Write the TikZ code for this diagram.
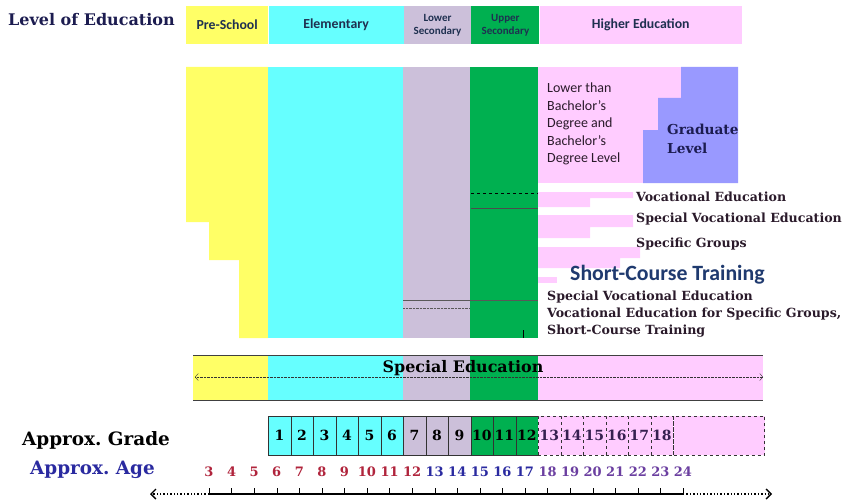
\documentclass[tikz,border=0pt]{standalone}
\usepackage{fontspec}
\setmainfont{DejaVu Serif}
\newfontfamily\calibri{Carlito}
\usetikzlibrary{positioning,arrows.meta}

\definecolor{preyellow}{HTML}{FFFF66}
\definecolor{elemcyan}{HTML}{66FFFF}
\definecolor{lowlav}{HTML}{CCC0DA}
\definecolor{upgreen}{HTML}{00B050}
\definecolor{highpink}{HTML}{FFCCFF}
\definecolor{gradblue}{HTML}{9999FF}
\definecolor{navy}{HTML}{1C1C50}
\definecolor{hdrnavy}{HTML}{1F3050}
\definecolor{shortnavy}{HTML}{1F3A6F}
\definecolor{agered}{HTML}{B0243C}
\definecolor{ageblue}{HTML}{2A2AA0}
\definecolor{agepurple}{HTML}{6B3FA0}
\definecolor{lbltext}{HTML}{2A1A2A}

\begin{document}
\frenchspacing
\begin{tikzpicture}[x=1pt,y=-1pt,>=stealth,
		hdr/.style={shape=rectangle,inner sep=0pt,minimum height=38pt,
			font=\calibri\bfseries\fontsize{13.8}{14}\selectfont,text=hdrnavy,align=center},
		ttl/.style={anchor=west,inner sep=0pt,font=\bfseries\fontsize{18.4}{19}\selectfont},
		voclbl/.style={anchor=west,inner sep=0pt,text=lbltext,
			font=\bfseries\fontsize{12.6}{14}\selectfont},
		gcell/.style={shape=rectangle,draw=black!80,anchor=north west,inner sep=0pt,
			minimum width=22.5pt,minimum height=39pt,font=\bfseries\fontsize{14}{15}\selectfont},
		agelbl/.style={inner sep=0pt,font=\bfseries\fontsize{13}{14}\selectfont},
		barb/.tip={Straight Barb[length=5pt,width=10pt]},
		smallbarb/.tip={Straight Barb[length=3pt,width=7pt]}]
		\useasboundingbox (0,0) rectangle (850,500);

		% create the header nodes.
		\node (pre) [hdr,fill=preyellow,minimum width=82pt,anchor=north west] at (186,6) {Pre-School};
		\node (elem) [hdr,fill=elemcyan,minimum width=135pt,right=0pt of pre] {Elementary};
		\node (lowsec) [hdr,fill=lowlav,minimum width=67pt,right=0pt of elem,
			font=\calibri\bfseries\fontsize{11}{13.5}\selectfont] {Lower\\Secondary};
		\node (upsec) [hdr,fill=upgreen,minimum width=68pt,right=0pt of lowsec,
			font=\calibri\bfseries\fontsize{11}{13.5}\selectfont] {Upper\\Secondary};
		\node (higher) [hdr,fill=highpink,minimum width=202pt,right=0pt of upsec] {Higher Education};
		\node (lvl) [ttl,text=navy,font=\bfseries\fontsize{16}{18}\selectfont] at (8,20) {Level of Education};

		% the levels
		\fill[preyellow] (186,67) -- (268,67) -- (268,338) -- (239,338) -- (239,260)
			-- (209,260) -- (209,222) -- (186,222) -- cycle;
		\fill[elemcyan] (268,67) rectangle (403,338);
		\fill[lowlav] (403,67) rectangle (470,338);
		\fill[upgreen] (470,67) rectangle (538,338);
		\fill[highpink] (538,67) rectangle (681,183);
		\fill[gradblue] (681,67) -- (738,67) -- (738,183) -- (643,183) -- (643,130)
			-- (658,130) -- (658,98) -- (681,98) -- cycle;
		\fill[highpink] (538,192) -- (633,192) -- (633,198) -- (590,198) -- (590,207) -- (538,207) -- cycle;
		\fill[highpink] (538,215) -- (633,215) -- (633,227) -- (590,227) -- (590,238) -- (538,238) -- cycle;
		\fill[highpink] (538,247) -- (640,247) -- (640,258) -- (620,258) -- (620,268) -- (538,268) -- cycle;
		\fill[highpink] (538,277) rectangle (557,283);
		\draw[dashed,thin] (471,193) -- (538,193);
		\draw[thin,black!70] (471,208) -- (538,208);
		\draw[thin,gray!70!black] (403,300) -- (538,300);
		\draw[densely dotted,gray!70!black] (403,308) -- (470,308);
		\draw[thin] (523,330) -- (523,338);

		% texts of the levels
		\node (lowbach) [anchor=north west,inner sep=0pt,align=left,text=lbltext,
			font=\calibri\fontsize{14}{17.5}\selectfont] at (547,83)
			{Lower than\\Bachelor’s\\Degree and\\Bachelor’s\\Degree Level};
		\node (grad) [anchor=north west,inner sep=0pt,align=left,text=navy,
			font=\bfseries\fontsize{13.7}{18.5}\selectfont] at (667,124) {Graduate\\Level};
		\node (voc) [voclbl] at (636,197) {Vocational Education};
		\node (spvoc) [voclbl] at (636,219) {Special Vocational Education};
		\node (spgrp) [voclbl] at (636,244) {Specific Groups};
		\node (short) [anchor=west,inner sep=0pt,text=shortnavy,
			font=\calibri\bfseries\fontsize{21.8}{22}\selectfont] at (570,275) {Short-Course Training};
		\node (spvoc2) [voclbl] at (547,297) {Special Vocational Education};
		\node (vocgrp) [voclbl] at (547,314) {Vocational Education for Specific Groups,};
		\node (short2) [voclbl] at (547,331) {Short-Course Training};

		% special education band
		\fill[preyellow] (193,355) rectangle (268,400);
		\fill[elemcyan] (268,355) rectangle (403,400);
		\fill[lowlav] (403,355) rectangle (470,400);
		\fill[upgreen] (470,355) rectangle (538,400);
		\fill[highpink] (538,355) rectangle (763,400);
		\draw[thick,gray!50!black] (193,355) -- (763,355);
		\draw[thick,gray!50!black] (193,400) -- (763,400);
		\coordinate (sel) at (195,377);
		\coordinate (ser) at (763,377);
		\draw[densely dotted,gray!40!black,smallbarb-smallbarb] (sel) -- (ser);
		\node (sped) [inner sep=0pt,font=\bfseries\fontsize{15.9}{17}\selectfont] at (463,368) {Special Education};

		% grades
		\foreach \g/\c in {1/elemcyan,2/elemcyan,3/elemcyan,4/elemcyan,5/elemcyan,6/elemcyan,
			7/lowlav,8/lowlav,9/lowlav,10/upgreen,11/upgreen,12/upgreen}
			\node (g\g) [gcell,fill=\c] at ({268+(\g-1)*22.5},416) {\g};
		\foreach \g in {13,...,18}
			\node (g\g) [gcell,fill=highpink,dashed,text=agepurple!50!black] at ({268+(\g-1)*22.5},416) {\g};
		\node (gend) [gcell,fill=highpink,dashed,minimum width=91pt,right=0pt of g18] {};
		\node (grade) [ttl] at (22,440) {Approx.\ Grade};

		% ages
		\foreach \a in {3,...,12}
			\node (age\a) [agelbl,text=agered] at ({209+(\a-3)*22.57},472) {\a};
		\foreach \a in {13,...,17}
			\node (age\a) [agelbl,text=ageblue] at ({209+(\a-3)*22.57},472) {\a};
		\foreach \a in {18,...,24}
			\node (age\a) [agelbl,text=agepurple] at ({209+(\a-3)*22.57},472) {\a};
		\node (age) [ttl,text=ageblue] at (30,470) {Approx.\ Age};

		% the age line
		\foreach \a in {3,...,24} {
			\coordinate (t\a) at ({209+(\a-3)*22.57},494);
			\draw[thin] (t\a) -- ++(0,-6);
		}
		\coordinate (axl) at (150,494);
		\coordinate (axr) at (772,494);
		\draw[line width=1.6pt] (t3) -- (t24);
		\draw[line width=1.4pt,dotted,-barb] (t3) -- (axl);
		\draw[line width=1.4pt,dotted,-barb] (t24) -- (axr);
	\end{tikzpicture}
\end{document}
